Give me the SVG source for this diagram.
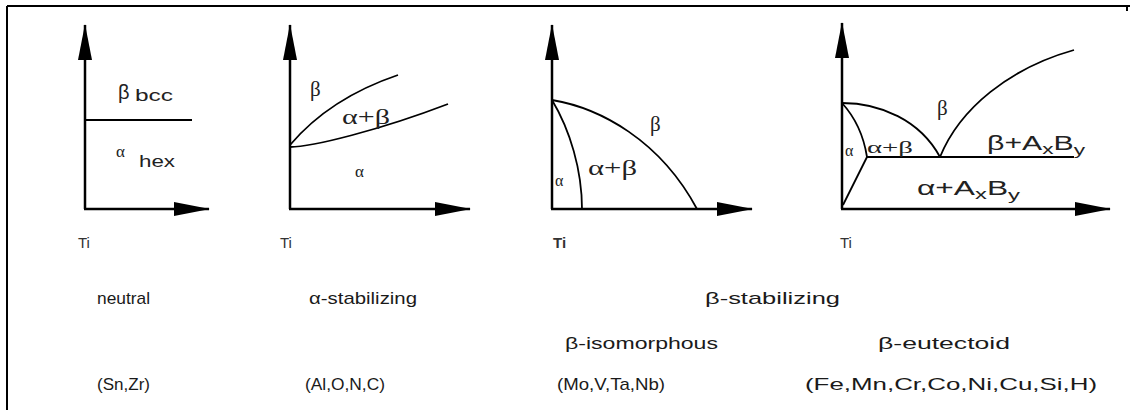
<svg xmlns="http://www.w3.org/2000/svg" width="1134" height="410" viewBox="0 0 1134 410">
<style>
.ax{stroke:#000;stroke-width:2.5;fill:none}
.cv{stroke:#000;stroke-width:1.8;fill:none}
.t{font-family:"Liberation Sans",Arial,sans-serif;fill:#222}
.g{font-family:"Liberation Serif","Times New Roman",serif;fill:#222}
.lab{font-family:"Liberation Sans",Arial,sans-serif;font-size:17px;fill:#1a1a1a}
.ti{font-family:"Liberation Sans",Arial,sans-serif;font-size:15px;fill:#333}
</style>
<defs>
<marker id="ah" viewBox="0 0 36 14" refX="35" refY="7" markerWidth="36" markerHeight="14" markerUnits="userSpaceOnUse" orient="auto">
<path d="M0,0 L36,7 L0,14 z" fill="#000"/>
</marker>
</defs>
<g id="frame">
<path d="M7,6 H1130 M7,6 V410 M1127,6 V11" stroke="#000" stroke-width="2" fill="none"/>
</g>
<g id="panel-neutral">
<line class="ax" x1="85" y1="209" x2="85" y2="25" marker-end="url(#ah)"/>
<line class="ax" x1="84" y1="209" x2="209" y2="209" marker-end="url(#ah)"/>
<line class="cv" x1="85" y1="120" x2="192" y2="120"/>
<text class="t" x="118" y="99" font-size="20">β</text>
<text class="t" x="135" y="101" font-size="16" textLength="38" lengthAdjust="spacingAndGlyphs">bcc</text>
<text class="g" x="116" y="157" font-size="17">α</text>
<text class="t" x="139" y="167" font-size="16" textLength="36" lengthAdjust="spacingAndGlyphs">hex</text>
</g>
<g id="panel-alpha">
<line class="ax" x1="290" y1="209" x2="290" y2="25" marker-end="url(#ah)"/>
<line class="ax" x1="289" y1="209" x2="470" y2="209" marker-end="url(#ah)"/>
<path class="cv" d="M290,145 Q330,98 398,75"/>
<path class="cv" d="M290,147 C312,147 380,130 448,104"/>
<text class="g" x="310" y="96" font-size="21">β</text>
<text class="g" x="342" y="124" font-size="20" textLength="48" lengthAdjust="spacingAndGlyphs">α+β</text>
<text class="g" x="355" y="177" font-size="17">α</text>
</g>
<g id="panel-iso">
<line class="ax" x1="552" y1="209" x2="552" y2="25" marker-end="url(#ah)"/>
<line class="ax" x1="551" y1="209" x2="752" y2="209" marker-end="url(#ah)"/>
<path class="cv" d="M552,100 C600,108 660,140 697,209"/>
<path class="cv" d="M552,100 C570,130 582,170 582,209"/>
<text class="g" x="650" y="131" font-size="21">β</text>
<text class="g" x="588" y="175" font-size="20" textLength="49" lengthAdjust="spacingAndGlyphs">α+β</text>
<text class="g" x="555" y="186" font-size="16">α</text>
</g>
<g id="panel-eut">
<line class="ax" x1="842" y1="209" x2="842" y2="23" marker-end="url(#ah)"/>
<line class="ax" x1="841" y1="209" x2="1110" y2="209" marker-end="url(#ah)"/>
<path class="cv" d="M842,103 Q862,125 867,157 L843,205"/>
<path class="cv" d="M842,103 C880,103 920,120 940,157"/>
<path class="cv" d="M940,157 C960,108 1010,68 1074,50"/>
<line class="cv" x1="867" y1="157" x2="1074" y2="157"/>
<text class="g" x="937" y="115" font-size="21">β</text>
<text class="t" x="987" y="150" font-size="20" textLength="98" lengthAdjust="spacingAndGlyphs">β+A<tspan font-size="15" dy="4">x</tspan><tspan dy="-4">B</tspan><tspan font-size="15" dy="5">y</tspan></text>
<text class="t" x="917" y="195" font-size="20" textLength="103" lengthAdjust="spacingAndGlyphs">α+A<tspan font-size="15" dy="4">x</tspan><tspan dy="-4">B</tspan><tspan font-size="15" dy="5">y</tspan></text>
<text class="g" x="845" y="156" font-size="16">α</text>
<text class="g" x="867" y="153" font-size="17" textLength="46" lengthAdjust="spacingAndGlyphs">α+β</text>
</g>
<g id="labels">
<text class="ti" x="78" y="248">Ti</text>
<text class="ti" x="280" y="248">Ti</text>
<text class="ti" x="553" y="248" font-weight="bold">Ti</text>
<text class="ti" x="840" y="248">Ti</text>
<text class="lab" x="97" y="304" textLength="53" lengthAdjust="spacingAndGlyphs">neutral</text>
<text class="lab" x="309" y="304" textLength="108" lengthAdjust="spacingAndGlyphs">α-stabilizing</text>
<text class="lab" x="705" y="304" textLength="135" lengthAdjust="spacingAndGlyphs">β-stabilizing</text>
<text class="lab" x="565" y="349" textLength="153" lengthAdjust="spacingAndGlyphs">β-isomorphous</text>
<text class="lab" x="878" y="349" textLength="132" lengthAdjust="spacingAndGlyphs">β-eutectoid</text>
<text class="lab" x="97" y="390" textLength="53" lengthAdjust="spacingAndGlyphs">(Sn,Zr)</text>
<text class="lab" x="305" y="390" textLength="80" lengthAdjust="spacingAndGlyphs">(Al,O,N,C)</text>
<text class="lab" x="557" y="390" textLength="108" lengthAdjust="spacingAndGlyphs">(Mo,V,Ta,Nb)</text>
<text class="lab" x="805" y="390" textLength="292" lengthAdjust="spacingAndGlyphs">(Fe,Mn,Cr,Co,Ni,Cu,Si,H)</text>
</g>
</svg>
